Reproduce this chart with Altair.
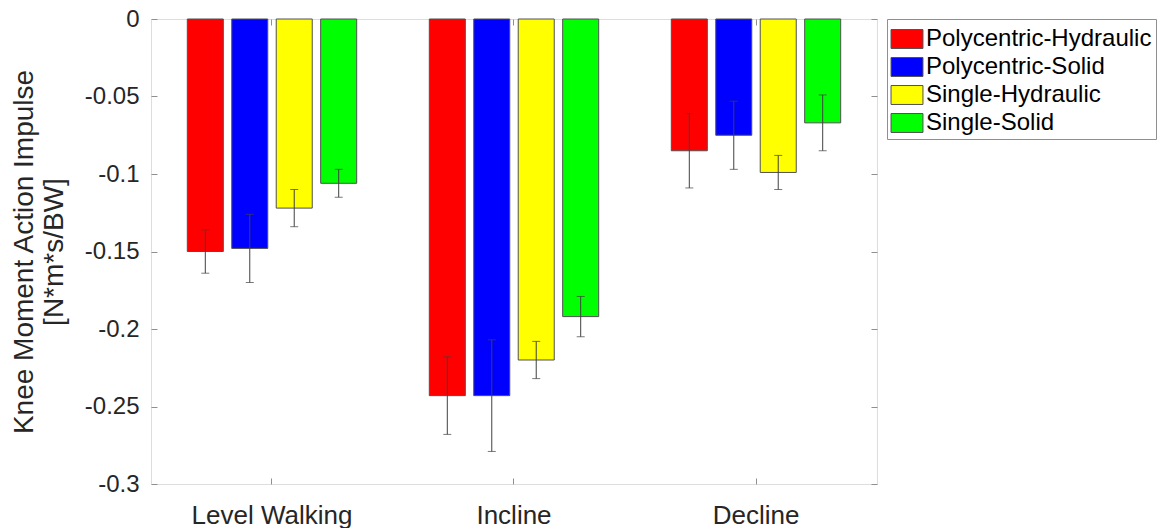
import altair as alt
import pandas as pd

# Walking conditions (x groups) and knee designs (bars within each group)
conditions = ["Level Walking", "Incline", "Decline"]
designs = ["Polycentric-Hydraulic", "Polycentric-Solid", "Single-Hydraulic", "Single-Solid"]
design_colors = ["#ff0000", "#0000ff", "#ffff00", "#00ff00"]

# Mean knee moment action impulse [N*m*s/BW], one value per design
level_mean = [-0.150, -0.148, -0.122, -0.106]
incline_mean = [-0.243, -0.243, -0.220, -0.192]
decline_mean = [-0.085, -0.075, -0.099, -0.067]

# Standard deviation shown as error bars
level_sd = [0.014, 0.022, 0.012, 0.009]
incline_sd = [0.025, 0.036, 0.012, 0.013]
decline_sd = [0.024, 0.022, 0.011, 0.018]

y_ticks = [0, -0.05, -0.1, -0.15, -0.2, -0.25, -0.3]

rows = []
for cond, means, sds in zip(conditions,
                            [level_mean, incline_mean, decline_mean],
                            [level_sd, incline_sd, decline_sd]):
    for d, m, s in zip(designs, means, sds):
        rows.append({"Condition": cond, "Design": d, "mean": m,
                     "lo": m - s, "hi": m + s})
df = pd.DataFrame(rows)

FONT = "Liberation Sans"
TEXT = "#262626"
FRAME = "#8f8f8f"

x_scale = alt.Scale(domain=conditions, paddingInner=0.3, paddingOuter=0.15)
off_scale = alt.Scale(domain=designs, paddingInner=0.19, paddingOuter=0)
y_scale = alt.Scale(domain=[-0.3, 0], nice=False)
label_expr = "replace(format(datum.value, '~g'), '\u2212', '-')"

base = alt.Chart(df)

bars = base.mark_bar(stroke="#505050", strokeWidth=1).encode(
    x=alt.X("Condition:N", sort=conditions, scale=x_scale, title=None,
            axis=alt.Axis(orient="bottom", offset=-6, tickSize=6, labelAngle=0,
                          labelPadding=18, domain=False, tickColor=FRAME,
                          labelFontSize=26, labelColor=TEXT, labelFont=FONT)),
    xOffset=alt.XOffset("Design:N", sort=designs, scale=off_scale),
    y=alt.Y("mean:Q", scale=y_scale,
            title=["Knee Moment Action Impulse", "[N*m*s/BW]"],
            axis=alt.Axis(orient="left", offset=-6, tickSize=6, values=y_ticks,
                          labelExpr=label_expr, labelPadding=12, domain=False,
                          grid=False, tickColor=FRAME, labelFontSize=24,
                          labelColor=TEXT, labelFont=FONT, titleFontSize=28,
                          titleFont=FONT, titleColor=TEXT, titleFontWeight="normal",
                          titleLineHeight=30, titlePadding=16)),
    color=alt.Color("Design:N", sort=designs,
                    scale=alt.Scale(domain=designs, range=design_colors),
                    legend=alt.Legend(title=None, orient="right", offset=9,
                                      padding=4, strokeColor=FRAME,
                                      fillColor="white", labelFontSize=24,
                                      labelFont=FONT, labelColor="#000000",
                                      labelLimit=320, labelOffset=3,
                                      rowPadding=0, symbolSize=961,
                                      symbolType="M-1.03,-0.61H1.03V0.61H-1.03Z",
                                      symbolStrokeColor="#505050",
                                      symbolStrokeWidth=1, symbolOpacity=1)),
)

# Vertical error-bar stems; this layer also carries the inward ticks on the top and right edges
stems = base.mark_rule(color="#404040", strokeWidth=1).encode(
    x=alt.X("Condition:N", sort=conditions, scale=x_scale, title=None,
            axis=alt.Axis(orient="top", offset=-6, tickSize=6, labels=False,
                          domain=False, tickColor=FRAME)),
    xOffset=alt.XOffset("Design:N", sort=designs, scale=off_scale),
    y=alt.Y("lo:Q", scale=y_scale, title=None,
            axis=alt.Axis(orient="right", offset=-6, tickSize=6, labels=False,
                          values=y_ticks, domain=False, grid=False,
                          tickColor=FRAME)),
    y2="hi:Q",
)

# Horizontal caps at both ends of each error bar
caps = base.transform_fold(["lo", "hi"], as_=["end", "val"]).mark_tick(
    color="#404040", thickness=1, size=8
).encode(
    x=alt.X("Condition:N", sort=conditions, scale=x_scale, axis=None),
    xOffset=alt.XOffset("Design:N", sort=designs, scale=off_scale),
    y=alt.Y("val:Q", scale=y_scale, axis=None),
)

chart = alt.layer(bars, stems, caps).resolve_axis(
    x="independent", y="independent"
).properties(
    width=726, height=465,
    padding={"left": 10, "top": 7, "right": 5, "bottom": 0},
).configure_view(
    stroke=FRAME, strokeWidth=1
).configure(
    background="white"
)

chart.save("out.html", embed_options={"renderer": "svg", "actions": False})
